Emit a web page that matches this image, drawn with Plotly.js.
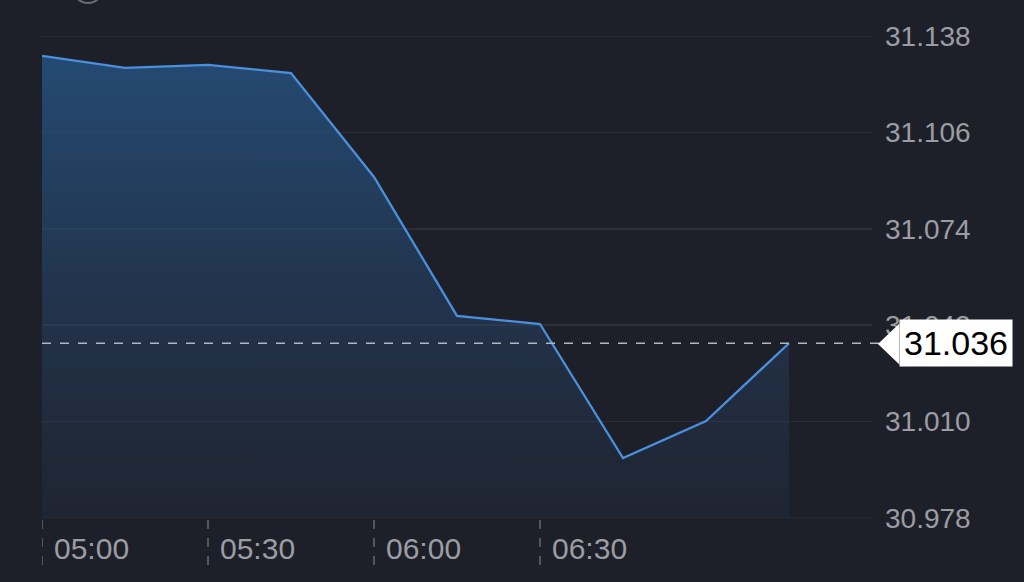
<!DOCTYPE html>
<html>
<head>
<meta charset="utf-8">
<script src="https://cdn.plot.ly/plotly-3.0.1.min.js"></script>
<style>
html,body{margin:0;padding:0;background:#1e2029;}
#chart{width:1024px;height:582px;}
</style>
</head>
<body>
<div id="chart"></div>
<script>
var times = ['2024-01-01 05:00','2024-01-01 05:15','2024-01-01 05:30','2024-01-01 05:45','2024-01-01 06:00',
             '2024-01-01 06:15','2024-01-01 06:30','2024-01-01 06:45','2024-01-01 07:00','2024-01-01 07:15'];
var prices = [31.1314, 31.1274, 31.1284, 31.1257, 31.0912, 31.0451, 31.0424, 30.9979, 31.0102, 31.036];
var lastPrice = 31.036;
var lastLabel = '31.036';
var yTicks = [30.978, 31.010, 31.042, 31.074, 31.106, 31.138];
var yTickText = ['30.978','31.010','31.042','31.074','31.106','31.138'];
var xTicks = ['2024-01-01 05:00','2024-01-01 05:30','2024-01-01 06:00','2024-01-01 06:30'];
var xTickText = ['05:00','05:30','06:00','06:30'];
var xRange = ['2024-01-01 05:00','2024-01-01 07:30'];
var yRange = [30.978, 31.138];

var bg = '#1e2029';
var gridCol = '#2b2e37';
var textCol = '#9b9da3';
var fontFam = '"Liberation Sans", Arial, sans-serif';

var trace = {
  x: times, y: prices, type: 'scatter', mode: 'lines',
  line: {color: '#4a90dc', width: 2.3},
  fill: 'tozeroy',
  fillgradient: {type: 'vertical', start: yRange[0], stop: prices[0],
    colorscale: [[0, 'rgba(40,70,110,0.12)'], [1, 'rgba(38,86,136,0.78)']]},
  hoverinfo: 'skip'
};

var shapes = [];
[yRange[0], yRange[1]].forEach(function(v){
  shapes.push({type:'line', xref:'paper', yref:'y', x0:0, x1:1, y0:v, y1:v, layer:'below',
    line:{color:gridCol, width:1.5}});
});
xTicks.forEach(function(t){
  shapes.push({type:'line', xref:'x', yref:'paper', x0:t, x1:t, y0:-0.004, y1:-0.1,
    line:{color:'#8a8c92', width:1, dash:'dash'}});
});
shapes.push({type:'line', xref:'paper', yref:'y', x0:0, x1:1.01, y0:lastPrice, y1:lastPrice,
  line:{color:'#b4b6ba', width:1.5, dash:'dash'}});
shapes.push({type:'path', xref:'paper', yref:'paper',
  path:'M 1.0072 0.3610 L 1.0330 0.4035 L 1.0330 0.3185 Z',
  fillcolor:'#ffffff', line:{width:0}});
shapes.push({type:'circle', xref:'paper', yref:'paper', x0:0.0373, x1:0.0735, y0:1.0685, y1:1.1307,
  line:{color:'#6a6c72', width:2}});

var layout = {
  width: 1024, height: 582,
  paper_bgcolor: bg, plot_bgcolor: bg,
  margin: {l: 42, r: 152, t: 36, b: 64},
  showlegend: false,
  xaxis: {
    type: 'date', range: xRange, showgrid: false, zeroline: false, showline: false,
    tickvals: xTicks, ticktext: xTickText, ticks: '',
    ticklabelposition: 'outside right', ticklabelstandoff: 10, ticklabelshift: 12,
    tickfont: {family: fontFam, size: 30, color: textCol}
  },
  yaxis: {
    side: 'right', range: yRange, zeroline: false, showline: false,
    tickvals: yTicks, ticktext: yTickText, ticks: '',
    showgrid: true, gridcolor: gridCol, gridwidth: 1.5,
    ticklabelstandoff: 12,
    tickfont: {family: fontFam, size: 28, color: textCol}
  },
  shapes: shapes,
  annotations: [{
    xref: 'paper', yref: 'y', x: 1.0325, y: lastPrice, xanchor: 'left', yanchor: 'middle',
    text: lastLabel, showarrow: false, bgcolor: '#ffffff', borderpad: 4,
    font: {family: fontFam, size: 34, color: '#000000'}
  }]
};

Plotly.newPlot('chart', [trace], layout, {displayModeBar: false, staticPlot: true});
</script>
</body>
</html>
